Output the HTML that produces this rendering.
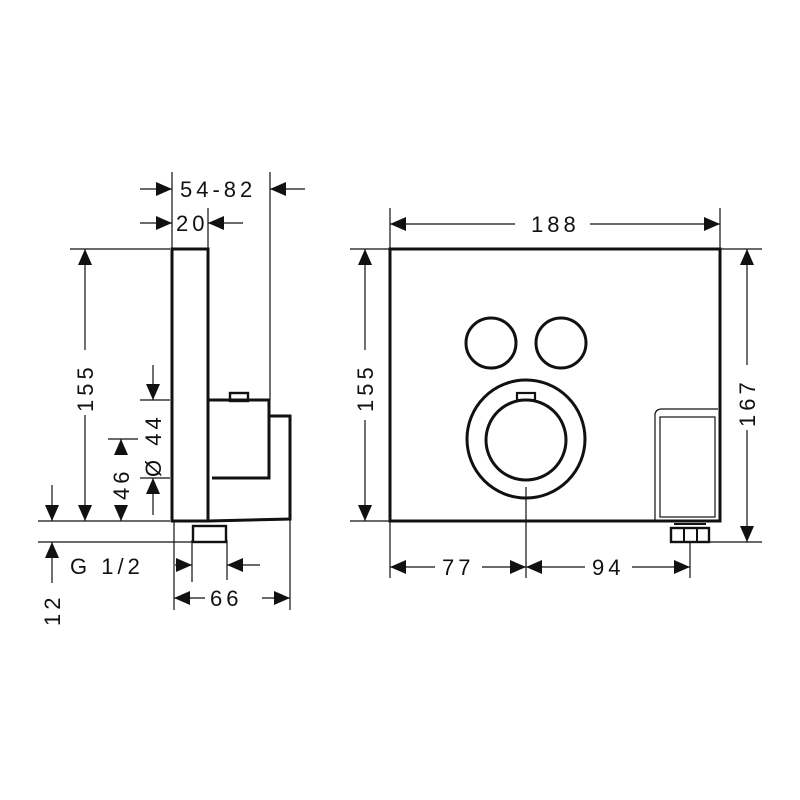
<!DOCTYPE html>
<html><head><meta charset="utf-8"><style>
html,body{margin:0;padding:0;background:#fff;width:800px;height:800px;overflow:hidden}
text{font-family:"Liberation Sans",sans-serif;font-size:22px;fill:#111;letter-spacing:4px}
</style></head><body>
<svg width="800" height="800" viewBox="0 0 800 800" xmlns="http://www.w3.org/2000/svg">
<g stroke="#111" fill="none">
<g stroke-width="1.2">
<line x1="172" y1="172" x2="172" y2="249"/>
<line x1="270" y1="172" x2="270" y2="400"/>
<line x1="208" y1="208" x2="208" y2="249"/>
<line x1="70" y1="249" x2="170" y2="249"/>
<line x1="38" y1="521" x2="170" y2="521"/>
<line x1="38" y1="542" x2="192" y2="542"/>
<line x1="140" y1="400" x2="170" y2="400"/>
<line x1="140" y1="478" x2="170" y2="478"/>
<line x1="108" y1="439" x2="138" y2="439"/>
<line x1="174" y1="521" x2="174" y2="610"/>
<line x1="290" y1="519" x2="290" y2="610"/>
<line x1="192" y1="540" x2="192" y2="582"/>
<line x1="227" y1="540" x2="227" y2="580"/>
<line x1="140" y1="189" x2="172" y2="189"/>
<line x1="270" y1="189" x2="305" y2="189"/>
<line x1="140" y1="223" x2="172" y2="223"/>
<line x1="208" y1="223" x2="243" y2="223"/>
<line x1="85" y1="249" x2="85" y2="350"/>
<line x1="85" y1="415" x2="85" y2="521"/>
<line x1="153" y1="365" x2="153" y2="400"/>
<line x1="153" y1="478" x2="153" y2="515"/>
<line x1="121" y1="439" x2="121" y2="452"/>
<line x1="121" y1="505" x2="121" y2="521"/>
<line x1="52" y1="485" x2="52" y2="521"/>
<line x1="52" y1="542" x2="52" y2="583"/>
<line x1="175" y1="565" x2="192" y2="565"/>
<line x1="227" y1="565" x2="260" y2="565"/>
<line x1="174" y1="598" x2="205" y2="598"/>
<line x1="262" y1="598" x2="290" y2="598"/>
</g>
<g stroke-width="3">
<rect x="172" y="249" width="36" height="272"/>
<path d="M208 400 H269 V478 H212"/>
<path d="M269 416 H290 V519 L208 521"/>
<rect x="230" y="393" width="18" height="8" stroke-width="2.4"/>
<rect x="193" y="526" width="33" height="16" stroke-width="2.4"/>
</g>
<g stroke-width="1.2">
<line x1="390" y1="208" x2="390" y2="249"/>
<line x1="720" y1="208" x2="720" y2="249"/>
<line x1="350" y1="249" x2="390" y2="249"/>
<line x1="350" y1="521" x2="390" y2="521"/>
<line x1="720" y1="249" x2="762" y2="249"/>
<line x1="710" y1="542" x2="762" y2="542"/>
<line x1="390" y1="521" x2="390" y2="578"/>
<line x1="526" y1="487" x2="526" y2="578"/>
<line x1="690" y1="542" x2="690" y2="578"/>
<line x1="390" y1="224" x2="515" y2="224"/>
<line x1="590" y1="224" x2="720" y2="224"/>
<line x1="365" y1="249" x2="365" y2="350"/>
<line x1="365" y1="420" x2="365" y2="521"/>
<line x1="747" y1="249" x2="747" y2="365"/>
<line x1="747" y1="430" x2="747" y2="542"/>
<line x1="390" y1="567" x2="435" y2="567"/>
<line x1="482" y1="567" x2="526" y2="567"/>
<line x1="526" y1="567" x2="585" y2="567"/>
<line x1="632" y1="567" x2="690" y2="567"/>
</g>
<g stroke-width="3">
<rect x="390" y="249" width="330" height="272"/>
<circle cx="491" cy="343" r="25"/>
<circle cx="561" cy="343" r="25"/>
<circle cx="526" cy="439" r="59"/>
<circle cx="526" cy="440" r="40"/>
<rect x="517" y="393" width="18" height="7" stroke-width="2.2"/>
<rect x="671" y="528" width="38" height="14" stroke-width="2.4"/>
<line x1="684" y1="528" x2="684" y2="542" stroke-width="2"/>
<line x1="697" y1="528" x2="697" y2="542" stroke-width="2"/>
<line x1="674" y1="524" x2="706" y2="524" stroke-width="2"/>
</g>
<g stroke-width="1.2">
<path d="M655 521 V414 Q656 409 662 409 H718"/>
<rect x="660" y="417" width="55" height="100"/>
</g>
</g>
<g fill="#111">
<polygon points="156,182 172,189 156,196"/>
<polygon points="286,182 270,189 286,196"/>
<polygon points="156,216 172,223 156,230"/>
<polygon points="224,216 208,223 224,230"/>
<polygon points="78,265 85,249 92,265"/>
<polygon points="78,505 85,521 92,505"/>
<polygon points="146,384 153,400 160,384"/>
<polygon points="146,494 153,478 160,494"/>
<polygon points="114,455 121,439 128,455"/>
<polygon points="114,505 121,521 128,505"/>
<polygon points="45,505 52,521 59,505"/>
<polygon points="45,558 52,542 59,558"/>
<polygon points="176,558 192,565 176,572"/>
<polygon points="243,558 227,565 243,572"/>
<polygon points="190,591 174,598 190,605"/>
<polygon points="274,591 290,598 274,605"/>
<polygon points="406,217 390,224 406,231"/>
<polygon points="704,217 720,224 704,231"/>
<polygon points="358,265 365,249 372,265"/>
<polygon points="358,505 365,521 372,505"/>
<polygon points="740,265 747,249 754,265"/>
<polygon points="740,526 747,542 754,526"/>
<polygon points="406,560 390,567 406,574"/>
<polygon points="510,560 526,567 510,574"/>
<polygon points="542,560 526,567 542,574"/>
<polygon points="674,560 690,567 674,574"/>
</g>
<text x="180" y="197">54-82</text>
<text x="176" y="231">20</text>
<text x="70" y="574">G 1/2</text>
<text x="210" y="606">66</text>
<text x="531" y="232">188</text>
<text x="442" y="575">77</text>
<text x="592" y="575">94</text>
<text transform="translate(93,412) rotate(-90)">155</text>
<text transform="translate(373,412) rotate(-90)">155</text>
<text transform="translate(755,427) rotate(-90)">167</text>
<text transform="translate(161,477) rotate(-90)">Ø 44</text>
<text transform="translate(129,500) rotate(-90)">46</text>
<text transform="translate(60,626) rotate(-90)">12</text>
</svg>
</body></html>
